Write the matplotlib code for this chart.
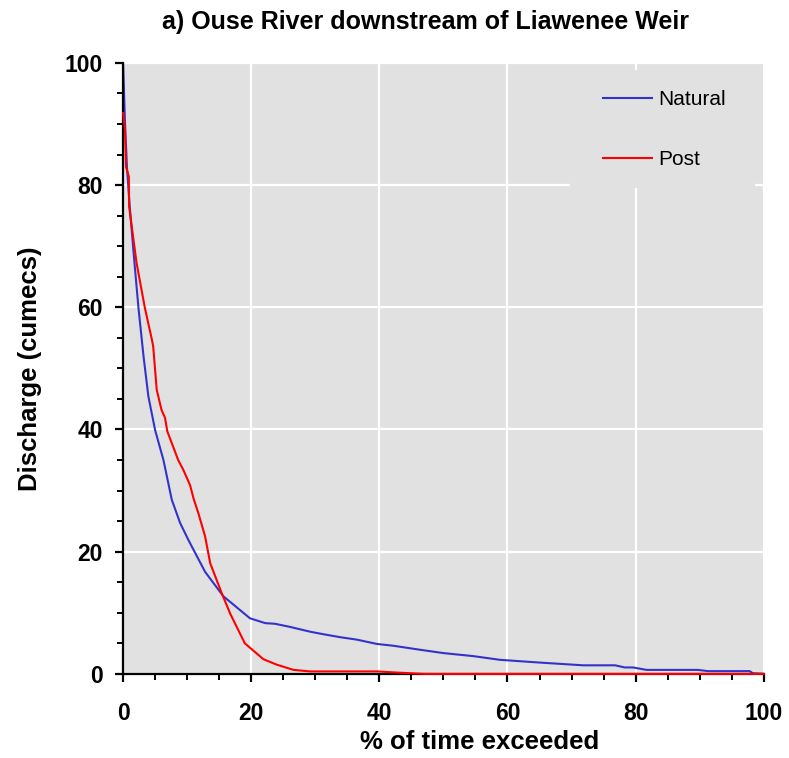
import matplotlib
matplotlib.use("Agg")
import matplotlib.pyplot as plt
from matplotlib.patches import Rectangle
from matplotlib.ticker import MultipleLocator

plt.rcParams["font.family"] = ["Liberation Sans", "DejaVu Sans"]

TITLE = "a) Ouse River downstream of Liawenee Weir"

# кривая обеспеченности расходов, естественный режим
nat_x = [0.0, 0.3, 0.6, 1.0, 1.6, 2.4, 3.2, 3.95, 5.0, 6.3, 7.6, 8.9, 10.2,
         12.8, 15.65, 19.8, 22.2, 23.7, 26.0, 29.2, 31.2, 33.9, 36.5, 39.6,
         42.2, 46.0, 50.0, 54.7, 58.8, 65.0, 71.8, 76.8, 78.3, 79.6, 81.7,
         89.7, 91.3, 97.8, 98.3, 100.0]
nat_y = [100.0, 90.2, 83.0, 77.0, 69.4, 59.9, 51.9, 45.4, 39.9, 35.0, 28.5,
         24.7, 21.9, 16.7, 12.7, 9.1, 8.3, 8.2, 7.7, 6.9, 6.5, 6.0, 5.6, 4.9,
         4.6, 4.0, 3.4, 2.9, 2.3, 1.85, 1.4, 1.4, 1.05, 1.05, 0.65, 0.65, 0.45,
         0.45, 0.1, 0.0]

# после регулирования
post_x = [0.0, 0.3, 0.45, 0.9, 0.94, 2.1, 3.4, 4.5, 4.7, 5.25, 6.0, 6.55,
          6.9, 8.6, 9.4, 10.45, 11.0, 11.75, 12.8, 13.6, 15.4, 16.7, 19.0,
          21.9, 24.0, 26.6, 29.2, 39.6, 43.0, 47.0, 100.0]
post_y = [91.8, 89.0, 83.0, 81.4, 76.5, 67.3, 59.9, 54.7, 53.6, 46.5, 43.2,
          41.9, 39.7, 35.0, 33.4, 30.9, 28.7, 26.3, 22.5, 18.1, 13.2, 9.9, 5.0,
          2.4, 1.5, 0.65, 0.4, 0.4, 0.2, 0.0, 0.0]

BG = "#e1e1e1"

fig = plt.figure(figsize=(7.89, 7.58), dpi=100)
ax = fig.add_axes([0.156, 0.111, 0.812, 0.806])
ax.set_facecolor(BG)

ax.plot(nat_x, nat_y, color="#3333cc", lw=1.5, label="Natural", zorder=3)
ax.plot(post_x, post_y, color="#ff0000", lw=1.5, label="Post", zorder=4,
        clip_on=False)

ax.set_xlim(0, 100)
ax.set_ylim(0, 100)
ax.xaxis.set_major_locator(MultipleLocator(20))
ax.yaxis.set_major_locator(MultipleLocator(20))
ax.xaxis.set_minor_locator(MultipleLocator(5))
ax.yaxis.set_minor_locator(MultipleLocator(5))
ax.grid(True, which="major", color="white", lw=1.6, zorder=1)
ax.set_axisbelow(True)

for s in ("top", "right"):
    ax.spines[s].set_visible(False)
for s in ("left", "bottom"):
    ax.spines[s].set_linewidth(1.6)
    ax.spines[s].set_zorder(3.5)
ax.tick_params(which="major", direction="out", length=5.5, width=1.6,
               labelsize=16.5)
ax.tick_params(which="minor", direction="out", length=4.5, width=1.4)
ax.tick_params(axis="x", which="major", pad=15)
ax.tick_params(axis="y", which="major", pad=9)
for lbl in ax.get_xticklabels() + ax.get_yticklabels():
    lbl.set_fontweight("bold")

ax.set_xlabel("% of time exceeded", fontsize=18.5, fontweight="bold")
ax.xaxis.set_label_coords(0.557, -0.092)
ax.set_ylabel("Discharge (cumecs)", fontsize=18.5, fontweight="bold", labelpad=16)
fig.text(0.539, 0.971, TITLE, ha="center", va="center", fontsize=18,
         fontweight="bold")

# фон легенды закрывает сетку
ax.add_patch(Rectangle((0.697, 0.795), 0.289, 0.194, transform=ax.transAxes,
                       facecolor=BG, edgecolor="none", zorder=2))
ax.legend(loc="upper left", bbox_to_anchor=(0.749, 0.955), fontsize=15,
          frameon=False, handlelength=2.35, handletextpad=0.3,
          labelspacing=1.94, borderpad=0.0, borderaxespad=0.0)

fig.savefig("out.png", dpi=100)
